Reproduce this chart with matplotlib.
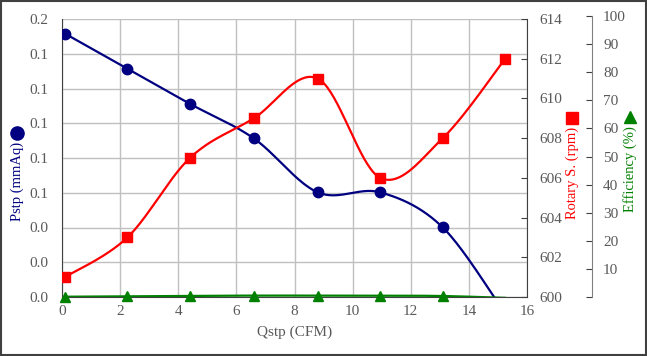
import matplotlib
matplotlib.use('Agg')
import matplotlib.pyplot as plt
from matplotlib.lines import Line2D
import numpy as np

# data
qstp = [0.1, 2.25, 4.4, 6.6, 8.8, 10.95, 13.1, 15.25]
pstp = [0.1895, 0.1643, 0.139, 0.1141, 0.0753, 0.0753, 0.0501, -0.012]
rpm = [601.0, 603.0, 607.0, 609.0, 611.0, 606.0, 608.0, 612.0]
eff = [0.1, 0.25, 0.4, 0.5, 0.5, 0.5, 0.35, -0.3]

pstp_ticks = [0, 0.025, 0.05, 0.075, 0.1, 0.125, 0.15, 0.175, 0.2]
pstp_labels = ['0.0', '0.0', '0.0', '0.1', '0.1', '0.1', '0.1', '0.1', '0.2']

NAVY = '#000080'
RED = '#ff0000'
GREEN = '#008000'
GRAY = '#595959'
FONT = 'Liberation Serif'


def smooth(x, y, n=40):
    # Excel-style smoothed line: cubic bezier through the points
    x = np.asarray(x, float)
    y = np.asarray(y, float)
    px = np.concatenate([[x[0]], x, [x[-1]]])
    py = np.concatenate([[y[0]], y, [y[-1]]])
    t = np.linspace(0, 1, n)
    xs, ys = [], []
    for i in range(1, len(px) - 2):
        p0 = np.array([px[i], py[i]])
        p3 = np.array([px[i + 1], py[i + 1]])
        c1 = p0 + (p3 - np.array([px[i - 1], py[i - 1]])) / 6
        c2 = p3 - (np.array([px[i + 2], py[i + 2]]) - p0) / 6
        b = ((1 - t) ** 3)[:, None] * p0 + (3 * (1 - t) ** 2 * t)[:, None] * c1 \
            + (3 * (1 - t) * t ** 2)[:, None] * c2 + (t ** 3)[:, None] * p3
        xs.append(b[:, 0])
        ys.append(b[:, 1])
    return np.concatenate(xs), np.concatenate(ys)


plt.rcParams['font.family'] = [FONT, 'DejaVu Sans']
fig = plt.figure(figsize=(6.47, 3.56), dpi=100)

L, B, W, H = 62 / 647, 59 / 356, 465 / 647, 278 / 356
ax = fig.add_axes([L, B, W, H])
ax2 = ax.twinx()
ax3 = fig.add_axes([L, B, W, 281 / 356])
ax3.patch.set_visible(False)

# left axis: Pstp
ax.set_xlim(0, 16)
ax.set_ylim(0, 0.2)
ax.set_xticks(range(0, 17, 2))
ax.set_yticks(pstp_ticks)
ax.set_yticklabels(pstp_labels)
ax.grid(True, color='#c0c0c0', lw=1)
ax.set_axisbelow(True)
ax.tick_params(axis='both', length=0, colors=GRAY, labelsize=11)
ax.tick_params(axis='y', pad=10)
ax.tick_params(axis='x', pad=6)
for s in ['left', 'bottom']:
    ax.spines[s].set_color('#404040')
ax.spines['top'].set_visible(False)
ax.spines['right'].set_visible(False)
ax.set_xlabel('Qstp (CFM)', fontsize=11, color=GRAY, labelpad=5)

sx, sy = smooth(qstp, pstp)
ax.plot(sx, sy, color=NAVY, lw=1.6, zorder=3)
ax.plot(qstp[:-1], pstp[:-1], 'o', color=NAVY, ms=7.5, zorder=4)

# right axis: rotary speed
ax2.set_ylim(600, 614)
ax2.set_yticks(range(600, 615, 2))
ax2.tick_params(axis='y', direction='in', length=4, colors=GRAY, labelsize=11, pad=9)
ax2.tick_params(axis='y', color='#404040')
for s in ['left', 'top', 'bottom']:
    ax2.spines[s].set_visible(False)
ax2.spines['right'].set_color('#404040')
sx, sy = smooth(qstp, rpm)
ax2.plot(sx, sy, color=RED, lw=1.6, zorder=3)
ax2.plot(qstp, rpm, 's', color=RED, ms=7.5, zorder=4)

# third axis: efficiency
ax3.set_xlim(0, 16)
ax3.set_ylim(0, 100)
ax3.xaxis.set_visible(False)
ax3.yaxis.tick_right()
ax3.set_yticks(range(0, 101, 10))
ax3.set_yticklabels([''] + [str(v) for v in range(10, 101, 10)])
ax3.tick_params(axis='y', direction='in', length=4, colors=GRAY, labelsize=11, pad=8)
ax3.tick_params(axis='y', color='#404040')
for s in ['left', 'top', 'bottom']:
    ax3.spines[s].set_visible(False)
ax3.spines['right'].set_position(('axes', (592 - 62) / 465))
ax3.spines['right'].set_color('#808080')
sx, sy = smooth(qstp, eff)
ax3.plot(sx, sy, color=GREEN, lw=1.6, zorder=3)
ax3.plot(qstp[:-1], eff[:-1], '^', color=GREEN, ms=7.5, zorder=4, clip_on=False)


# axis titles with marker symbols
def px(x, y):
    return x / 647, 1 - y / 356


def title(x, y, txt, color, mx, my, marker, ms):
    fig.text(*px(x, y), txt, rotation=90, color=color, fontsize=10.5,
             ha='center', va='center')
    mxf, myf = px(mx, my)
    fig.add_artist(Line2D([mxf], [myf], marker=marker, color=color, ms=ms,
                          transform=fig.transFigure))


title(17, 181, 'Pstp (mmAq)', NAVY, 17, 133, 'o', 9.5)
title(572, 173, 'Rotary S. (rpm)', RED, 572, 118, 's', 9)
title(630, 169, 'Efficiency (%)', GREEN, 630, 117, '^', 9)

# outer frame
fig.patches.append(plt.Rectangle((0.001, 0.002), 0.997, 0.996, transform=fig.transFigure,
                                 fill=False, edgecolor='#404040', lw=1.5))

fig.savefig('out.png', dpi=100)
